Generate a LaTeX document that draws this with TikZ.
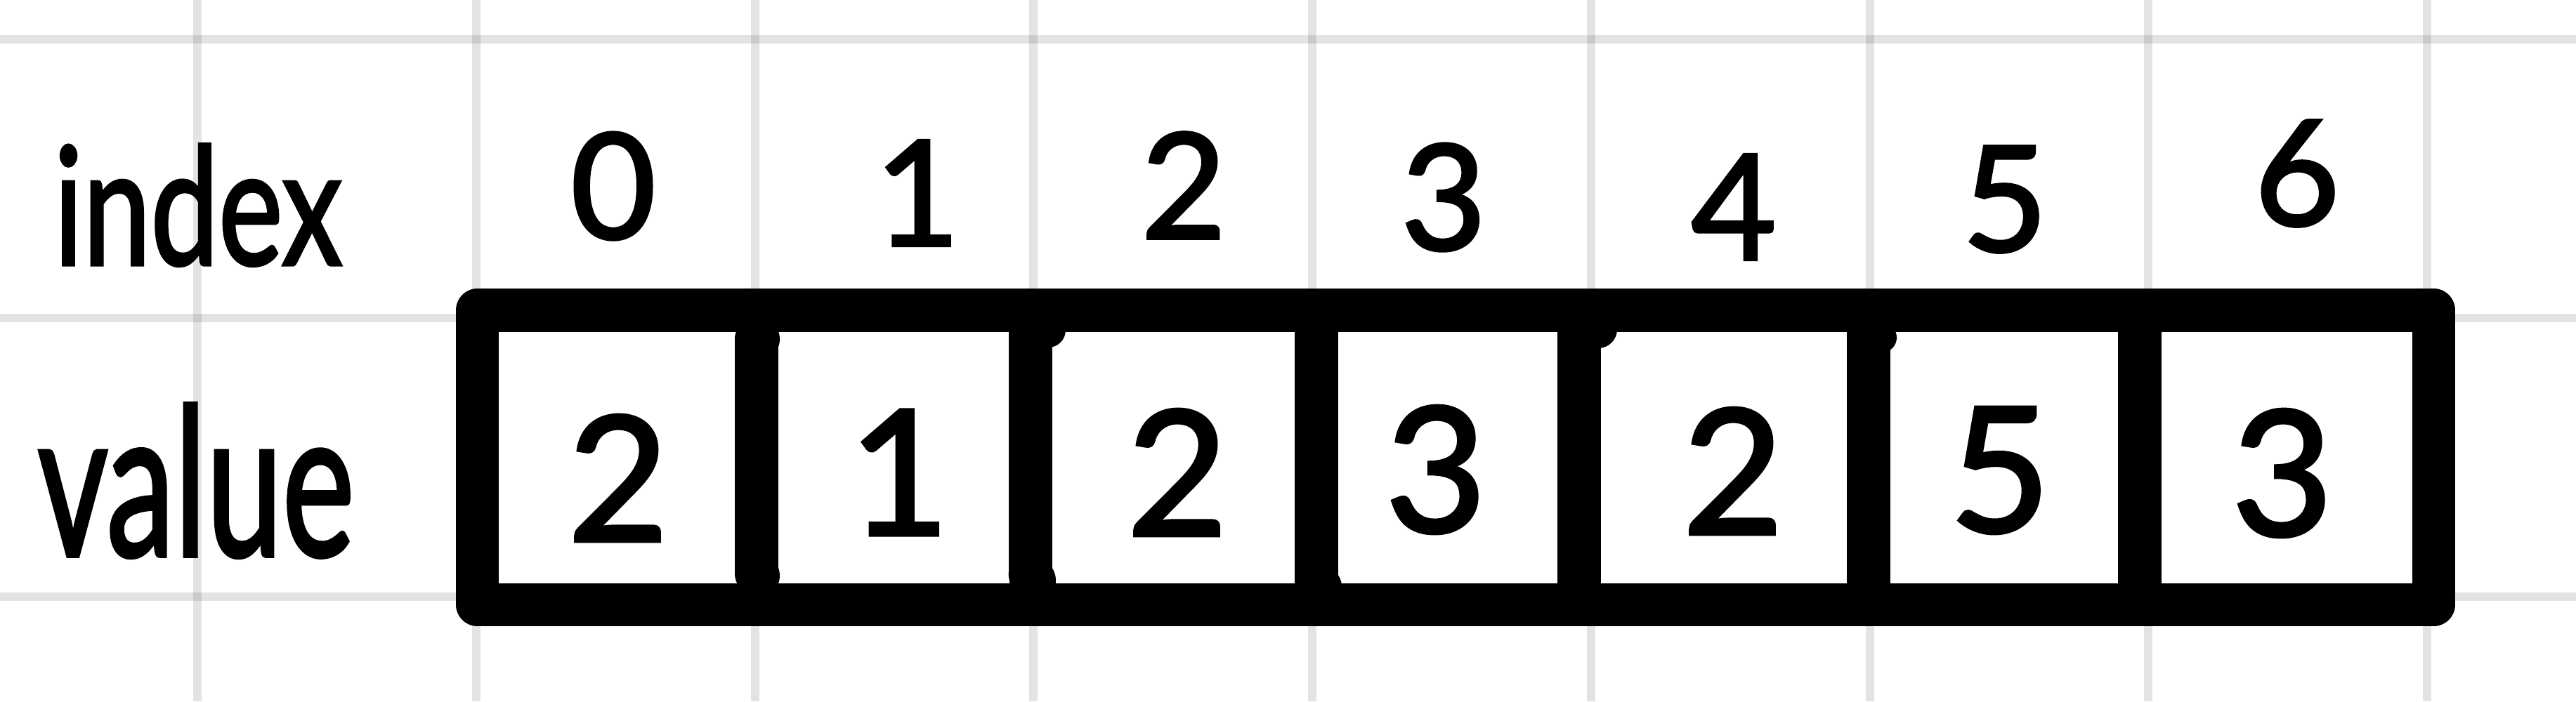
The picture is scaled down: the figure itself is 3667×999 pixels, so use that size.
\documentclass[tikz,border=0pt]{standalone}
\usepackage{fontspec}
\setmainfont{Lato}
\newfontfamily\handfont{Lato}[FakeBold=2]
\usepackage{graphicx}
\begin{document}
\begin{tikzpicture}[x=0.01cm,y=-0.01cm,
  gridline/.style={draw=black,draw opacity=0.11,line width=0.12cm},
  boxline/.style={draw=black,line width=0.61cm,line join=round},
  divline/.style={draw=black,line width=0.62cm},
  idx/.style={inner sep=0pt,font=\handfont\fontsize{59.5pt}{60pt}\selectfont},
  val/.style={inner sep=0pt,font=\handfont\fontsize{70.6pt}{71pt}\selectfont},
  lbl/.style={inner sep=0pt,font=\handfont}]
\useasboundingbox (0,0) rectangle (3667,999);
\fill[white] (0,0) rectangle (3667,999);
% grid
\foreach \gx in {281,677.75,1074.5,1471.25,1868,2264.75,2661.5,3058.25,3455}
  \draw[gridline] (\gx,0) -- (\gx,999);
\foreach \gy in {55.5,453,850}
  \draw[gridline] (0,\gy) -- (3667,\gy);
% array box
\draw[boxline] (679.5,442) rectangle (3464.5,861);
% dividers
\draw[divline,line cap=round] (1077,483) -- (1077,817);
\fill (1079,483) circle[radius=0.31cm];
\fill (1079,820) circle[radius=0.31cm];
\draw[divline] (1466.7,442) -- (1466.7,818);
\fill (1466.7,818) circle[radius=0.31cm];
\fill (1492,470) circle[radius=0.25cm];
\fill (1470,827) circle[radius=0.33cm];
\draw[divline] (1874,442) -- (1874,861);
\fill (1880,836) circle[radius=0.30cm];
\draw[divline] (2247.5,442) -- (2247.5,861);
\fill (2275,469) circle[radius=0.27cm];
\draw[divline] (2660,442) -- (2660,861);
\fill (2679,481) circle[radius=0.21cm];
\draw[divline] (3046,442) -- (3046,861);
% labels
\node[lbl] (lindex) at (282,292) {\resizebox{4.1cm}{1.72cm}{index}};
\node[lbl] (lvalue) at (279,684.5) {\resizebox{4.5cm}{2.17cm}{value}};
% index row
\node[idx] (i0) at (873,265) {0};
\node[idx] (i1) at (1306,275) {1};
\node[idx] (i2) at (1685,264) {2};
\node[idx] (i3) at (2055,281) {3};
\node[idx] (i4) at (2468,295) {4};
\node[idx] (i5) at (2854,284) {5};
\node[idx] (i6) at (3270,247) {6};
% value row
\node[val] (v0) at (880,681) {2};
\node[val] (v1) at (1280,673) {1};
\node[val] (v2) at (1676,673) {2};
\node[val] (v3) at (2044,669) {3};
\node[val] (v4) at (2467,671) {2};
\node[val] (v5) at (2847,670) {5};
\node[val] (v6) at (3249,674) {3};
\end{tikzpicture}
\end{document}
